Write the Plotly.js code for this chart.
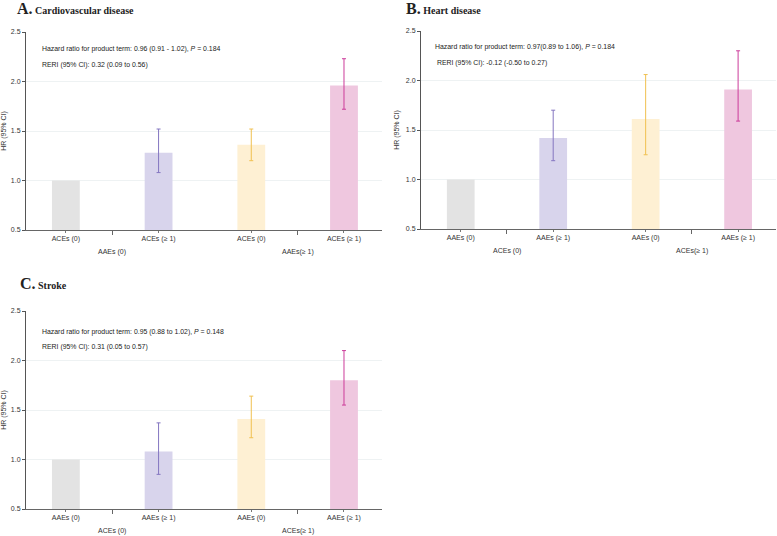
<!DOCTYPE html>
<html>
<head>
<meta charset="utf-8">
<script src="https://cdn.plot.ly/plotly-3.0.1.min.js"></script>
<style>html,body{margin:0;padding:0;background:#fff}#chart{width:777px;height:536px}</style>
</head>
<body>
<div id="chart"></div>
<script>
// ---- data ----
const positions = [0, 1, 2, 3];
const groupPositions = [0.5, 2.5];

const labelsA = ["ACEs (0)", "ACEs (\u2265 1)", "ACEs (0)", "ACEs (\u2265 1)"];
const groupsA = ["AAEs (0)", "AAEs(\u2265 1)"];
const labelsBC = ["AAEs (0)", "AAEs (\u2265 1)", "AAEs (0)", "AAEs (\u2265 1)"];
const groupsBC = ["ACEs (0)", "ACEs(\u2265 1)"];

const hrA = [1.00, 1.28, 1.36, 1.96];
const loA = [null, 1.08, 1.20, 1.72];
const hiA = [null, 1.52, 1.52, 2.23];

const hrB = [1.00, 1.42, 1.61, 1.91];
const loB = [null, 1.19, 1.25, 1.59];
const hiB = [null, 1.70, 2.06, 2.30];

const hrC = [1.00, 1.08, 1.41, 1.80];
const loC = [null, 0.85, 1.22, 1.55];
const hiC = [null, 1.37, 1.64, 2.10];

const titleLetters = ["A.", "B.", "C."];
const titleNames = ["Cardiovascular disease", "Heart disease", "Stroke"];
const noteHR = [
  "Hazard ratio for product term: 0.96 (0.91 - 1.02), <i>P</i> = 0.184",
  "Hazard ratio for product term: 0.97(0.89 to 1.06), <i>P</i> = 0.184",
  "Hazard ratio for product term: 0.95 (0.88 to 1.02), <i>P</i> = 0.148"
];
const noteRERI = [
  "RERI (95% CI): 0.32 (0.09 to 0.56)",
  " RERI (95% CI): -0.12 (-0.50 to 0.27)",
  "RERI (95% CI): 0.31 (0.05 to 0.57)"
];

// ---- styles ----
const barColors = ["#e3e3e3", "#d8d4ec", "#fef0d3", "#efc7df"];
const errColors = [null, "#8476c0", "#f0c050", "#cc3c9a"];
const W = 777, H = 536;
const px = v => v / W;
const py = v => 1 - v / H;

// panel boxes in pixels: [left, right, top, bottom]
const boxes = [
  [26, 382, 32, 230],
  [421, 776, 31, 229],
  [26, 382, 311, 509]
];
const panels = [
  {hr: hrA, lo: loA, hi: hiA, labels: labelsA, groups: groupsA},
  {hr: hrB, lo: loB, hi: hiB, labels: labelsBC, groups: groupsBC},
  {hr: hrC, lo: loC, hi: hiC, labels: labelsBC, groups: groupsBC}
];
const titlePos = [[15, 8], [404, 8], [18, 283]];
const notePos = [[40, 49, 65], [433, 47, 63], [40, 332, 347]];

const traces = [];
const layout = {
  width: W, height: H,
  margin: {l: 0, r: 0, t: 0, b: 0},
  paper_bgcolor: "#ffffff",
  plot_bgcolor: "#ffffff",
  showlegend: false,
  font: {family: "Liberation Sans, Arial, sans-serif", color: "#333"},
  annotations: []
};

panels.forEach((p, k) => {
  const xa = k === 0 ? "x" : "x" + (k + 1);
  const ya = k === 0 ? "y" : "y" + (k + 1);
  const xkey = k === 0 ? "xaxis" : "xaxis" + (k + 1);
  const ykey = k === 0 ? "yaxis" : "yaxis" + (k + 1);
  const b = boxes[k];

  positions.forEach((pos, i) => {
    const t = {
      type: "bar", x: [pos], y: [p.hr[i]], width: 0.3,
      xaxis: xa, yaxis: ya,
      marker: {color: barColors[i], line: {width: 0}},
      hoverinfo: "skip"
    };
    if (p.lo[i] !== null) {
      t.error_y = {
        type: "data", symmetric: false,
        array: [p.hi[i] - p.hr[i]], arrayminus: [p.hr[i] - p.lo[i]],
        color: errColors[i], thickness: 1, width: 2
      };
    }
    traces.push(t);
  });

  layout[xkey] = {
    domain: [px(b[0]), px(b[1])],
    anchor: ya,
    range: [-0.43, 3.41],
    tickmode: "array", tickvals: positions, ticktext: p.labels,
    ticks: "outside", ticklen: 2, tickcolor: "#777", tickwidth: 1,
    tickfont: {size: 7, color: "#333"},
    showline: true, linecolor: "#666", linewidth: 1,
    showgrid: false, zeroline: false, fixedrange: true,
    minor: {tickmode: "array", tickvals: groupPositions, ticks: "outside", ticklen: 4, tickcolor: "#666", showgrid: false}
  };
  layout[ykey] = {
    domain: [py(b[3]), py(b[2])],
    anchor: xa,
    range: [0.5, 2.5],
    tickvals: [0.5, 1.0, 1.5, 2.0, 2.5],
    ticktext: ["0.5", "1.0", "1.5", "2.0", "2.5"],
    ticks: "outside", ticklen: 3, tickcolor: "#555", tickwidth: 1,
    tickfont: {size: 7, color: "#333"},
    showline: true, linecolor: "#555", linewidth: 1,
    showgrid: true, gridcolor: "#eef2f3", gridwidth: 1,
    zeroline: false, fixedrange: true,
    title: {text: "HR (95% CI)", font: {size: 7, color: "#333"}, standoff: 5}
  };

  // group labels
  p.groups.forEach((g, j) => {
    layout.annotations.push({
      text: g, xref: xa, x: groupPositions[j],
      yref: "paper", y: py(b[3] + 22), yanchor: "middle", xanchor: "center",
      showarrow: false, font: {size: 7, color: "#333"}
    });
  });

  // title
  layout.annotations.push({
    text: "<b><span style='font-size:16px'>" + titleLetters[k] + "</span> " + titleNames[k] + "</b>",
    xref: "paper", yref: "paper", x: px(titlePos[k][0]), y: py(titlePos[k][1]),
    xanchor: "left", yanchor: "middle", showarrow: false,
    font: {family: "Liberation Serif, DejaVu Serif, serif", size: 10, color: "#222"}
  });
  // notes
  layout.annotations.push({
    text: noteHR[k], xref: "paper", yref: "paper",
    x: px(notePos[k][0]), y: py(notePos[k][1]), xanchor: "left", yanchor: "middle",
    showarrow: false, font: {size: 6.9, color: "#222"}
  });
  layout.annotations.push({
    text: noteRERI[k], xref: "paper", yref: "paper",
    x: px(notePos[k][0]), y: py(notePos[k][2]), xanchor: "left", yanchor: "middle",
    showarrow: false, font: {size: 6.9, color: "#222"}
  });
});

Plotly.newPlot("chart", traces, layout, {displayModeBar: false, staticPlot: true});
</script>
</body>
</html>
